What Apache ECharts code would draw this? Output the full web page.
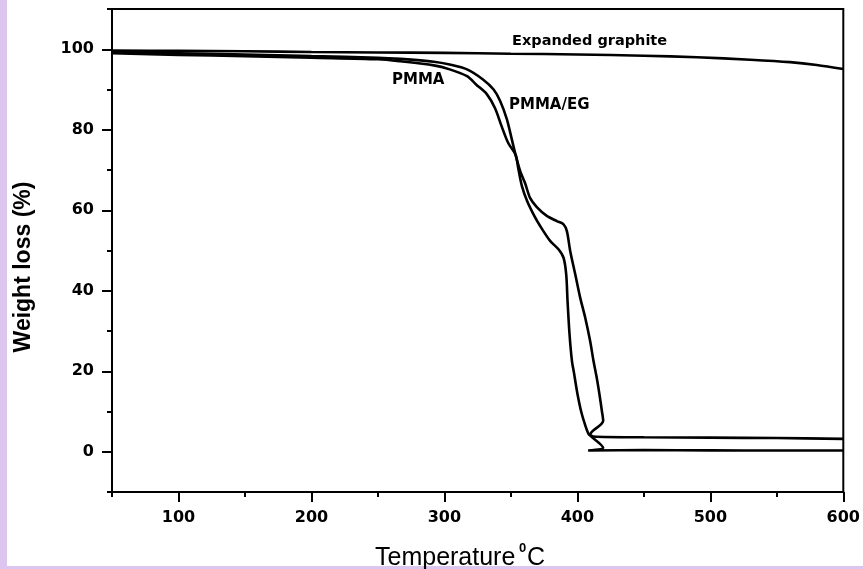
<!DOCTYPE html>
<html>
<head>
<meta charset="utf-8">
<title>TGA curves</title>
<script src="https://cdn.jsdelivr.net/npm/echarts@6.0.0/dist/echarts.min.js"></script>
<style>
  html, body { margin: 0; padding: 0; background: #ffffff; }
  #chart { width: 863px; height: 569px; }
</style>
</head>
<body>
<div id="chart"></div>
<script>
// Temperature (°C) and weight (%) readings for each sample
const egTemp = [50, 100, 150, 200, 250, 300, 350, 400, 450, 490, 530, 560, 580, 600];
const egWeight = [99.7, 99.6, 99.5, 99.3, 99.2, 99.1, 98.9, 98.7, 98.4, 98.0, 97.4, 96.8, 96.1, 95.1];

const pmmaTemp = [50, 100, 150, 200, 250, 267, 292, 304, 317, 324, 332, 338, 343, 348, 353.5,
  355.5, 358.3, 362.2, 367, 372, 379.5, 385.8, 389.6, 391.6, 392.6, 394.1, 395.9, 397.5,
  400, 403, 406, 408.4, 409.7, 419.4, 408.1, 450, 500, 550, 600];
const pmmaWeight = [99.0, 98.6, 98.3, 97.9, 97.5, 97.0, 96.0, 95.0, 93.3, 91.2, 88.8, 85.4, 80.9, 76.7, 73.8,
  70.5, 66.0, 62.3, 59.0, 56.1, 52.4, 50.3, 48.2, 44.1, 37.5, 29.2, 22.6, 19.5,
  14.5, 9.8, 6.5, 4.4, 4.0, 1.0, 0.3, 0.4, 0.35, 0.3, 0.3];

const compTemp = [50, 100, 150, 200, 250, 267, 292, 304, 317, 329, 337, 342, 347, 350.7, 353.5,
  357, 360.7, 364.5, 369.5, 377, 384.6, 389.6, 392.1, 394.6, 398.4, 402.1, 405.9, 409.6,
  412.1, 414.5, 416.5, 418.4, 419.4, 409.7, 412, 450, 500, 550, 600];
const compWeight = [99.3, 99.0, 98.7, 98.3, 97.9, 97.6, 96.9, 96.2, 95.0, 92.5, 90.0, 87.1, 82.6, 77.6, 73.8,
  69.7, 66.7, 63.0, 60.8, 58.6, 57.3, 56.5, 54.8, 49.9, 44.1, 38.3, 33.3, 27.5,
  22.6, 18.5, 14.5, 10.2, 7.7, 4.3, 3.8, 3.6, 3.5, 3.4, 3.2];

// Axis ticks and labels
const xMajor = [100, 200, 300, 400, 500, 600];
const xMinor = [50, 150, 250, 350, 450, 550];
const yMajor = [0, 20, 40, 60, 80, 100];
const yMinor = [-10, 10, 30, 50, 70, 90, 110];

const zip = (xs, ys) => xs.map((x, i) => [x, ys[i]]);

const tickFont = { fontFamily: 'DejaVu Sans', fontWeight: 'bold', fontSize: 16, color: '#000' };
const axisLineStyle = { color: '#000', width: 2 };

const chart = echarts.init(document.getElementById('chart'), null, { renderer: 'canvas' });

const lineSeries = (name, data) => ({
  name: name,
  type: 'line',
  data: data,
  showSymbol: false,
  symbol: 'none',
  smooth: 0.3,
  lineStyle: { color: '#000', width: 2.6 },
  z: 3
});

chart.setOption({
  animation: false,
  backgroundColor: '#ffffff',
  grid: {
    left: 112, right: 19, top: 9, bottom: 77,
    show: true, borderColor: '#000', borderWidth: 2, backgroundColor: 'transparent'
  },
  xAxis: [
    {
      type: 'value', min: 50, max: 600,
      axisLine: { show: true, onZero: false, lineStyle: axisLineStyle },
      axisTick: { show: true, customValues: xMajor, length: 10, lineStyle: axisLineStyle },
      axisLabel: Object.assign({ customValues: xMajor, margin: 18 }, tickFont),
      splitLine: { show: false }
    },
    {
      type: 'value', min: 50, max: 600, position: 'bottom',
      axisLine: { show: false, onZero: false },
      axisTick: { show: true, customValues: xMinor, length: 5, lineStyle: axisLineStyle },
      axisLabel: { show: false },
      splitLine: { show: false }
    }
  ],
  yAxis: [
    {
      type: 'value', min: -10, max: 110,
      axisLine: { show: true, onZero: false, lineStyle: axisLineStyle },
      axisTick: { show: true, customValues: yMajor, length: 10, lineStyle: axisLineStyle },
      axisLabel: Object.assign({ customValues: yMajor, margin: 18 }, tickFont),
      splitLine: { show: false }
    },
    {
      type: 'value', min: -10, max: 110, position: 'left',
      axisLine: { show: false, onZero: false },
      axisTick: { show: true, customValues: yMinor, length: 5, lineStyle: axisLineStyle },
      axisLabel: { show: false },
      splitLine: { show: false }
    }
  ],
  series: [
    lineSeries('Expanded graphite', zip(egTemp, egWeight)),
    lineSeries('PMMA', zip(pmmaTemp, pmmaWeight)),
    lineSeries('PMMA/EG', zip(compTemp, compWeight))
  ],
  graphic: [
    // lavender page frame
    { type: 'rect', shape: { x: 0, y: 0, width: 7, height: 569 }, style: { fill: '#dcc6ef' }, z: 0 },
    { type: 'rect', shape: { x: 0, y: 566, width: 863, height: 3 }, style: { fill: '#dcc6ef' }, z: 0 },
    // axis titles
    {
      type: 'text', x: 24, y: 267, rotation: Math.PI / 2,
      style: { text: 'Weight loss (%)', fontFamily: 'Liberation Sans', fontWeight: 'bold', fontSize: 23,
        fill: '#000', align: 'center', verticalAlign: 'middle' }
    },
    {
      type: 'text', x: 375, y: 558,
      style: { text: 'Temperature', fontFamily: 'Liberation Sans', fontSize: 25,
        fill: '#000', align: 'left', verticalAlign: 'middle' }
    },
    {
      type: 'text', x: 519, y: 548,
      style: { text: '0', fontFamily: 'Liberation Sans', fontWeight: 'bold', fontSize: 13,
        fill: '#000', align: 'left', verticalAlign: 'middle' }
    },
    {
      type: 'text', x: 527, y: 558,
      style: { text: 'C', fontFamily: 'Liberation Sans', fontSize: 25,
        fill: '#000', align: 'left', verticalAlign: 'middle' }
    },
    // curve labels
    {
      type: 'text', x: 512, y: 41,
      style: { text: 'Expanded graphite', fontFamily: 'DejaVu Sans', fontWeight: 'bold', fontSize: 14.5,
        fill: '#000', align: 'left', verticalAlign: 'middle' }
    },
    {
      type: 'text', x: 392, y: 80,
      style: { text: 'PMMA', fontFamily: 'DejaVu Sans', fontWeight: 'bold', fontSize: 15,
        fill: '#000', align: 'left', verticalAlign: 'middle' }
    },
    {
      type: 'text', x: 509, y: 105,
      style: { text: 'PMMA/EG', fontFamily: 'DejaVu Sans', fontWeight: 'bold', fontSize: 15,
        fill: '#000', align: 'left', verticalAlign: 'middle' }
    }
  ]
});
</script>
</body>
</html>
